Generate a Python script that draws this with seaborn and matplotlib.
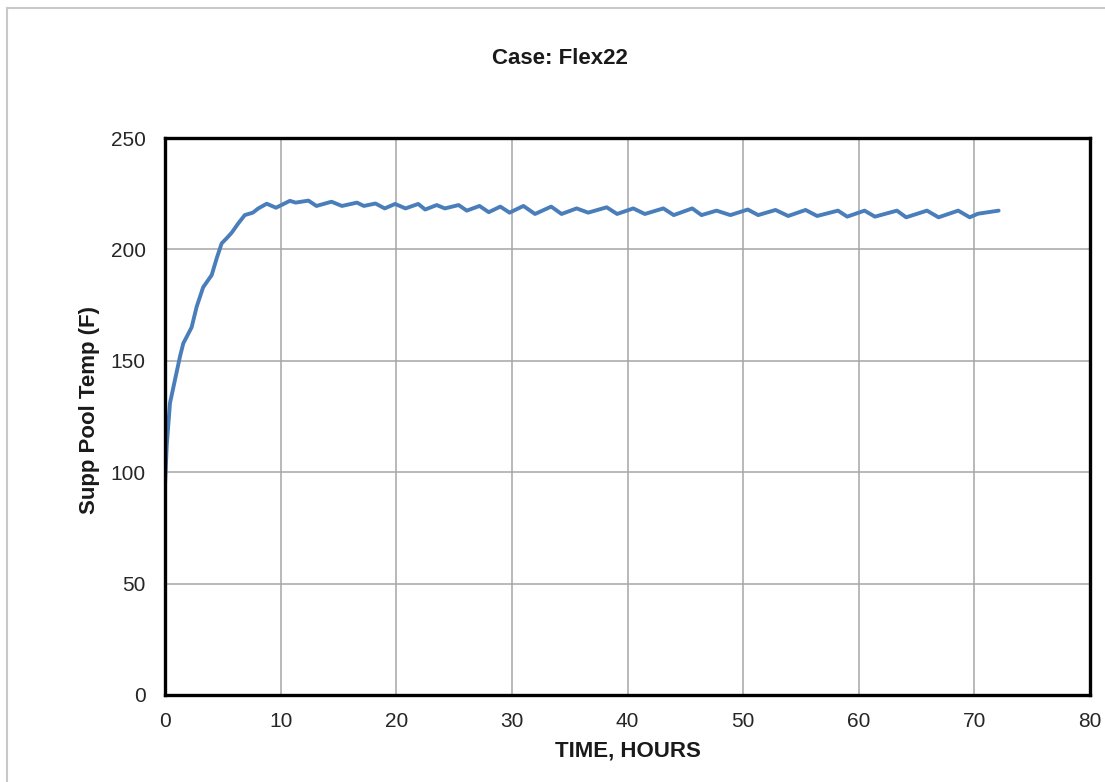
import matplotlib
matplotlib.use("Agg")
import matplotlib.pyplot as plt
import seaborn as sns
import pandas as pd
from matplotlib.patches import Rectangle

# values (peaks / dips of the cycling)
time_hours = [0.0, 0.15, 0.43, 0.86, 1.3, 1.58, 2.3, 2.74, 3.3, 4.04, 4.47, 4.9,
              5.33, 5.77, 6.34, 6.9, 7.6, 8.07, 8.8, 9.6, 10.8, 11.3,
              12.4, 13.1, 14.4, 15.3, 16.6, 17.2, 18.2, 19.0, 19.9, 20.8,
              21.9, 22.5, 23.5, 24.2, 25.4, 26.1, 27.2, 28.0, 29.0, 29.8,
              31.0, 32.0, 33.4, 34.3, 35.6, 36.6, 38.2, 39.1, 40.5, 41.5,
              43.1, 44.0, 45.6, 46.4, 47.7, 48.9, 50.4, 51.3, 52.8, 53.9,
              55.4, 56.4, 58.2, 59.0, 60.5, 61.4, 63.3, 64.1, 65.9, 66.9,
              68.6, 69.6, 70.3, 72.1]
pool_temp = [94, 112, 131, 141.4, 152, 157.8, 165, 174.3, 183, 188.5, 196, 202.7,
             205, 207.5, 211.7, 215.4, 216.5, 218.4, 220.5, 218.7, 221.8, 221,
             221.9, 219.5, 221.4, 219.5, 221, 219.5, 220.6, 218.4, 220.4, 218.4,
             220.4, 217.9, 219.9, 218.4, 219.9, 217.4, 219.5, 216.7, 219.2, 216.5,
             219.5, 215.9, 219.2, 215.9, 218.4, 216.5, 218.9, 215.9, 218.4, 215.9,
             218.4, 215.4, 218.4, 215.4, 217.4, 215.4, 217.9, 215.4, 217.7, 215.0,
             217.7, 215.0, 217.4, 214.7, 217.4, 214.7, 217.4, 214.4, 217.4, 214.4,
             217.4, 214.4, 216.0, 217.4]
x_ticks = [0, 10, 20, 30, 40, 50, 60, 70, 80]
y_ticks = [0, 50, 100, 150, 200, 250]

df = pd.DataFrame({"time": time_hours, "temp": pool_temp})

sns.set_style("white")
plt.rcParams["font.family"] = ["Liberation Sans", "DejaVu Sans"]

fig = plt.figure(figsize=(11.05, 7.82), dpi=100)
ax = fig.add_axes([165 / 1105, 1 - 695 / 782, 925 / 1105, 557 / 782])

sns.lineplot(data=df, x="time", y="temp", ax=ax, color="#4a7ebb", linewidth=2.8)

ax.set_xlim(0, 80)
ax.set_ylim(0, 250)
ax.set_xticks(x_ticks)
ax.set_yticks(y_ticks)
ax.grid(True, color="#a6a6a6", linewidth=1.1)
ax.tick_params(length=0, labelsize=15, colors="#262626")
ax.tick_params(axis="y", pad=14)
ax.tick_params(axis="x", pad=12)
for sp in ax.spines.values():
    sp.set_visible(True)
    sp.set_color("black")
    sp.set_linewidth(2.4)

ax.set_xlabel("TIME, HOURS", fontsize=16, fontweight="bold", color="#1a1a1a")
ax.set_ylabel("Supp Pool Temp (F)", fontsize=16, fontweight="bold", color="#1a1a1a")
ax.xaxis.set_label_coords(0.5, -0.081)
ax.yaxis.set_label_coords(-0.07, 0.512)

fig.text(560 / 1105, 1 - 58 / 782, "Case: Flex22", fontsize=16, fontweight="bold",
         ha="center", va="center", color="#1a1a1a")

# light frame around the chart area
fig.patches.append(Rectangle((7 / 1105, -0.1), 1.2, 1.1 - 8 / 782, transform=fig.transFigure,
                             fill=False, edgecolor="#c8c8c8", linewidth=1.5))

fig.savefig("out.png", dpi=100)
